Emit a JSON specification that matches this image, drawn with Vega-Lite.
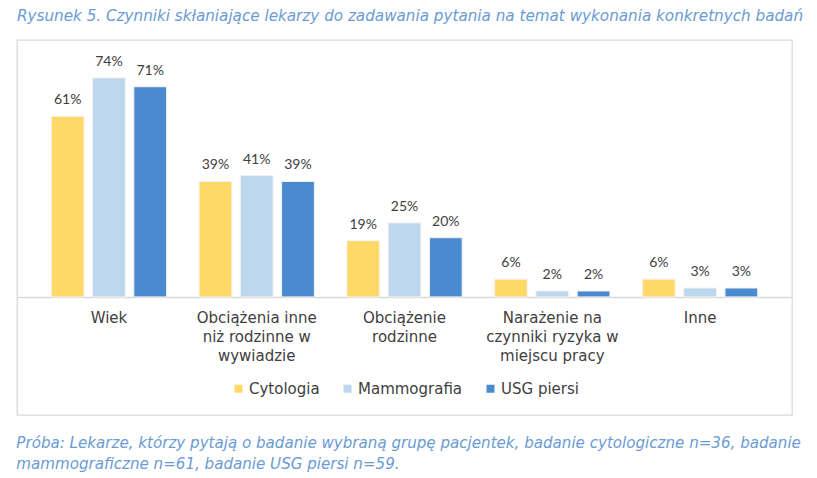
{
  "$schema": "https://vega.github.io/schema/vega-lite/v6.json",
  "padding": {"left": 16, "top": 8, "right": 0, "bottom": 0},
  "background": "#ffffff",
  "title": {
    "text": ["Próba: Lekarze, którzy pytają o badanie wybraną grupę pacjentek, badanie cytologiczne n=36, badanie", "mammograficzne n=61, badanie USG piersi n=59."],
    "orient": "bottom",
    "anchor": "start",
    "offset": 20,
    "font": "DejaVu Sans",
    "fontSize": 15.1,
    "fontStyle": "italic",
    "fontWeight": "normal",
    "color": "#6A9BD3",
    "lineHeight": 21
  },
  "data": {
    "values": [
      {"kat": "Wiek", "seria": "Cytologia", "wartosc": 0.61},
      {"kat": "Wiek", "seria": "Mammografia", "wartosc": 0.74},
      {"kat": "Wiek", "seria": "USG piersi", "wartosc": 0.71},
      {"kat": "Obciążenia inne|niż rodzinne w|wywiadzie", "seria": "Cytologia", "wartosc": 0.39},
      {"kat": "Obciążenia inne|niż rodzinne w|wywiadzie", "seria": "Mammografia", "wartosc": 0.41},
      {"kat": "Obciążenia inne|niż rodzinne w|wywiadzie", "seria": "USG piersi", "wartosc": 0.39},
      {"kat": "Obciążenie|rodzinne", "seria": "Cytologia", "wartosc": 0.19},
      {"kat": "Obciążenie|rodzinne", "seria": "Mammografia", "wartosc": 0.25},
      {"kat": "Obciążenie|rodzinne", "seria": "USG piersi", "wartosc": 0.20},
      {"kat": "Narażenie na|czynniki ryzyka w|miejscu pracy", "seria": "Cytologia", "wartosc": 0.06},
      {"kat": "Narażenie na|czynniki ryzyka w|miejscu pracy", "seria": "Mammografia", "wartosc": 0.02},
      {"kat": "Narażenie na|czynniki ryzyka w|miejscu pracy", "seria": "USG piersi", "wartosc": 0.02},
      {"kat": "Inne", "seria": "Cytologia", "wartosc": 0.06},
      {"kat": "Inne", "seria": "Mammografia", "wartosc": 0.03},
      {"kat": "Inne", "seria": "USG piersi", "wartosc": 0.03}
    ]
  },
  "vconcat": [
    {
      "title": {
        "text": "Rysunek 5. Czynniki skłaniające lekarzy do zadawania pytania na temat wykonania konkretnych badań",
        "anchor": "start",
        "offset": 16,
        "font": "DejaVu Sans",
        "fontSize": 15.2,
        "fontStyle": "italic",
        "fontWeight": "normal",
        "color": "#6A9BD3"
      },
      "width": 775,
      "height": 375,
      "encoding": {
        "x": {
          "field": "kat",
          "type": "nominal",
          "sort": null,
          "scale": {"paddingInner": 0.22, "paddingOuter": 0.232},
          "axis": {
            "title": null,
            "orient": "bottom",
            "offset": -118,
            "labelAngle": 0,
            "labelExpr": "split(datum.label, '|')",
            "labelFont": "DejaVu Sans",
            "labelFontSize": 15,
            "labelColor": "#404040",
            "labelLineHeight": 19,
            "labelPadding": 13,
            "ticks": false,
            "domainColor": "#D9D9D9",
            "domainWidth": 1.3
          }
        },
        "xOffset": {
          "field": "seria",
          "type": "nominal",
          "sort": ["Cytologia", "Mammografia", "USG piersi"],
          "scale": {"paddingInner": 0.207, "paddingOuter": 0}
        },
        "y": {
          "field": "wartosc",
          "type": "quantitative",
          "scale": {"domain": [-0.399, 0.868], "nice": false, "zero": false},
          "axis": null
        }
      },
      "layer": [
        {
          "mark": {"type": "bar", "stroke": "#F2F2F2", "strokeWidth": 1},
          "encoding": {
            "y2": {"datum": 0},
            "color": {
              "field": "seria",
              "type": "nominal",
              "scale": {
                "domain": ["Cytologia", "Mammografia", "USG piersi"],
                "range": ["#FFD966", "#BDD7EE", "#4A8ACF"]
              },
              "legend": {
                "title": null,
                "orient": "bottom",
                "direction": "horizontal",
                "offset": -35,
                "symbolType": "square",
                "symbolSize": 64,
                "symbolStrokeWidth": 0,
                "labelFont": "DejaVu Sans",
                "labelFontSize": 15,
                "labelColor": "#404040",
                "columnPadding": 20,
                "labelOffset": 3
              }
            }
          }
        },
        {
          "mark": {
            "type": "text",
            "baseline": "alphabetic",
            "dy": -12,
            "font": "Lato",
            "fontSize": 14,
            "color": "#404040"
          },
          "encoding": {
            "text": {"field": "wartosc", "type": "quantitative", "format": ".0%"}
          }
        }
      ]
    }
  ],
  "config": {
    "view": {"stroke": "#D9D9D9", "strokeWidth": 1.3},
    "concat": {"spacing": 0},
    "legend": {"layout": {"bottom": {"anchor": "middle"}}}
  }
}
